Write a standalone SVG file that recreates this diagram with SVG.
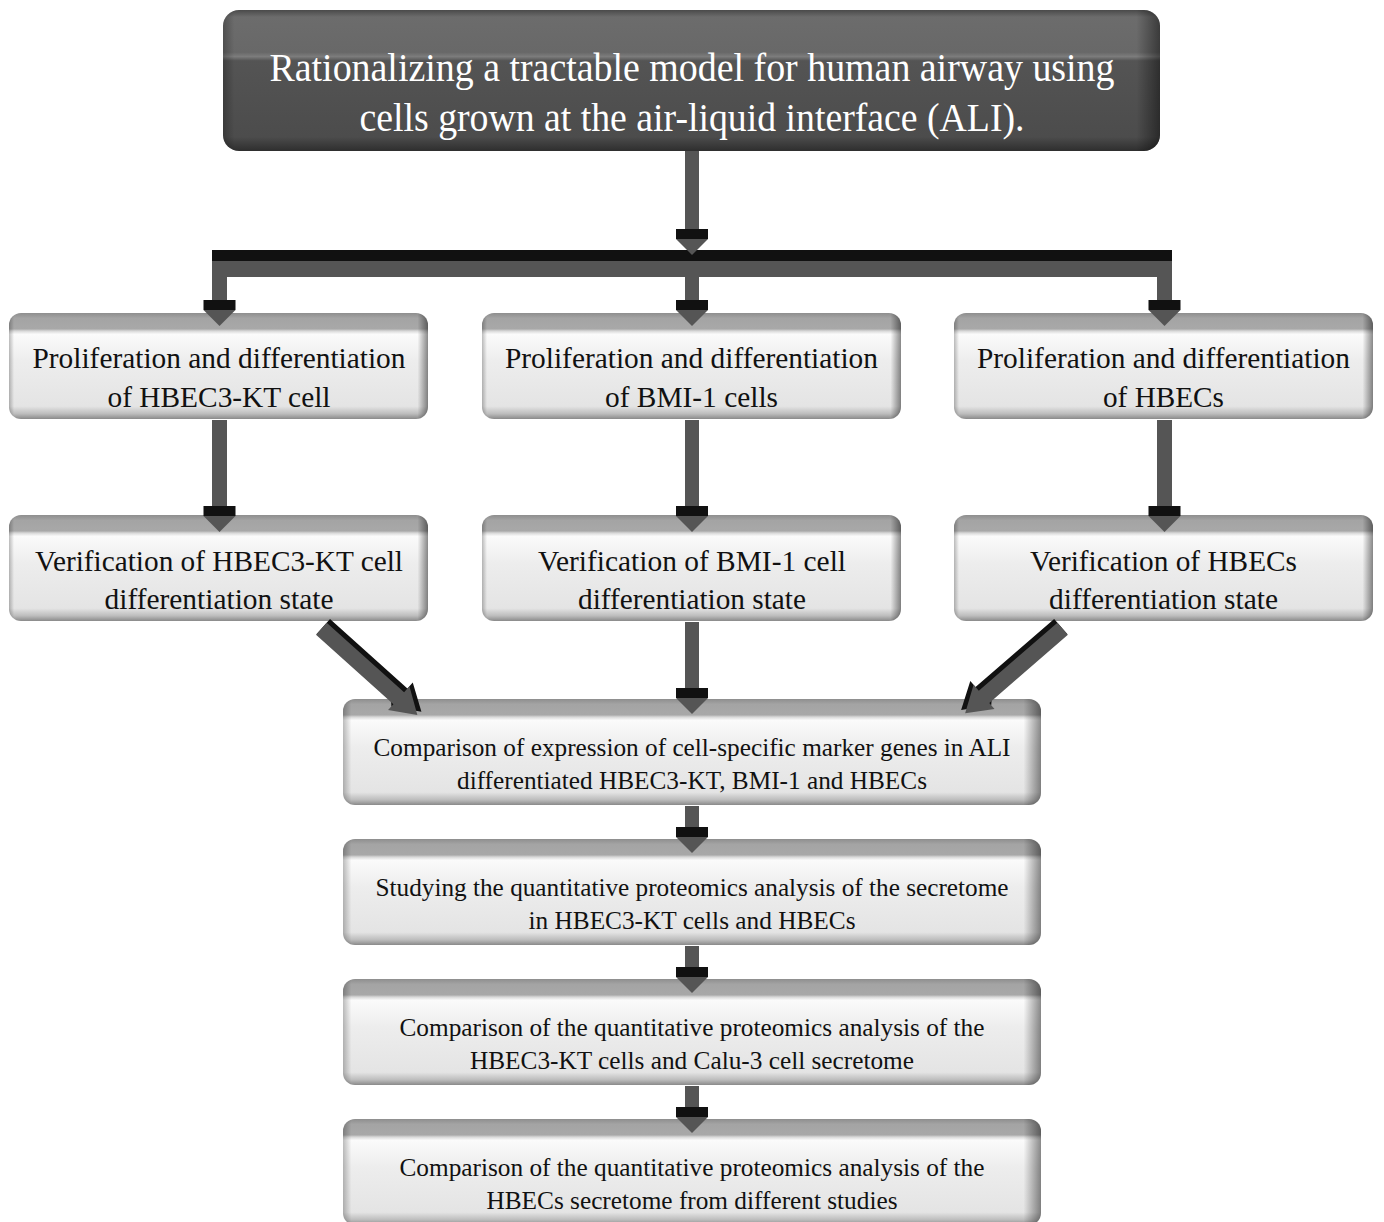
<svg xmlns="http://www.w3.org/2000/svg" width="1384" height="1222" viewBox="0 0 1384 1222">
<defs>
<linearGradient id="gLight" x1="0" y1="0" x2="0" y2="1">
<stop offset="0" stop-color="#8e8e8e"/>
<stop offset="0.05" stop-color="#a4a4a4"/>
<stop offset="0.15" stop-color="#a8a8a8"/>
<stop offset="0.17" stop-color="#d8d8d8"/>
<stop offset="0.2" stop-color="#fbfbfb"/>
<stop offset="0.45" stop-color="#ededed"/>
<stop offset="0.88" stop-color="#e4e4e4"/>
<stop offset="0.95" stop-color="#bdbdbd"/>
<stop offset="1" stop-color="#8a8a8a"/>
</linearGradient>
<linearGradient id="gDark" x1="0" y1="0" x2="0" y2="1">
<stop offset="0" stop-color="#4a4a4a"/>
<stop offset="0.05" stop-color="#6c6c6c"/>
<stop offset="0.3" stop-color="#686868"/>
<stop offset="0.33" stop-color="#7c7c7c"/>
<stop offset="0.36" stop-color="#545454"/>
<stop offset="0.9" stop-color="#4c4c4c"/>
<stop offset="1" stop-color="#2e2e2e"/>
</linearGradient>
<linearGradient id="gEdge" x1="0" y1="0" x2="1" y2="0">
<stop offset="0" stop-color="#000" stop-opacity="0.25"/>
<stop offset="0.012" stop-color="#000" stop-opacity="0"/>
<stop offset="0.975" stop-color="#000" stop-opacity="0"/>
<stop offset="1" stop-color="#000" stop-opacity="0.45"/>
</linearGradient>
<g id="downHead">
<rect x="-16" y="0" width="32" height="10" fill="#111"/>
<polygon points="-16,10 16,10 0,26" fill="#555"/>
</g>
</defs>
<style>
.box{fill:url(#gLight)}
.dark{fill:url(#gDark)}
.edge{fill:url(#gEdge)}
.t{font-family:"Liberation Serif","Times New Roman",serif;fill:#111;text-anchor:middle}
.t1{font-size:29px}
.t2{font-size:25px}
.tw{font-family:"Liberation Serif","Times New Roman",serif;fill:#fff;font-size:40px;text-anchor:middle}
.sh{fill:#555}
.bk{fill:#111}
</style>
<rect width="1384" height="1222" fill="#fff"/>

<g id="n-top">
<rect class="dark" x="223" y="10" width="937" height="141" rx="16"/>
<rect class="edge" x="223" y="10" width="937" height="141" rx="16"/>
<text class="tw" x="692" y="81" textLength="845" lengthAdjust="spacingAndGlyphs">Rationalizing a tractable model for human airway using</text>
<text class="tw" x="692" y="131" textLength="665" lengthAdjust="spacingAndGlyphs">cells grown at the air-liquid interface (ALI).</text>
</g>

<g id="n-prolif-hbec3">
<rect class="box" x="9" y="313" width="419" height="106" rx="12"/>
<rect class="edge" x="9" y="313" width="419" height="106" rx="12"/>
<text class="t t1" x="219" y="368" textLength="373" lengthAdjust="spacingAndGlyphs">Proliferation and differentiation</text>
<text class="t t1" x="219" y="407" textLength="223" lengthAdjust="spacingAndGlyphs">of HBEC3-KT cell</text>
</g>
<g id="n-prolif-bmi">
<rect class="box" x="482" y="313" width="419" height="106" rx="12"/>
<rect class="edge" x="482" y="313" width="419" height="106" rx="12"/>
<text class="t t1" x="691.5" y="368" textLength="373" lengthAdjust="spacingAndGlyphs">Proliferation and differentiation</text>
<text class="t t1" x="691.5" y="407" textLength="173" lengthAdjust="spacingAndGlyphs">of BMI-1 cells</text>
</g>
<g id="n-prolif-hbecs">
<rect class="box" x="954" y="313" width="419" height="106" rx="12"/>
<rect class="edge" x="954" y="313" width="419" height="106" rx="12"/>
<text class="t t1" x="1163.5" y="368" textLength="373" lengthAdjust="spacingAndGlyphs">Proliferation and differentiation</text>
<text class="t t1" x="1163.5" y="407" textLength="121" lengthAdjust="spacingAndGlyphs">of HBECs</text>
</g>

<g id="n-verif-hbec3">
<rect class="box" x="9" y="515" width="419" height="106" rx="12"/>
<rect class="edge" x="9" y="515" width="419" height="106" rx="12"/>
<text class="t t1" x="219" y="571" textLength="368" lengthAdjust="spacingAndGlyphs">Verification of HBEC3-KT cell</text>
<text class="t t1" x="219" y="609" textLength="229" lengthAdjust="spacingAndGlyphs">differentiation state</text>
</g>
<g id="n-verif-bmi">
<rect class="box" x="482" y="515" width="419" height="106" rx="12"/>
<rect class="edge" x="482" y="515" width="419" height="106" rx="12"/>
<text class="t t1" x="692" y="571" textLength="308" lengthAdjust="spacingAndGlyphs">Verification of BMI-1 cell</text>
<text class="t t1" x="692" y="609" textLength="228" lengthAdjust="spacingAndGlyphs">differentiation state</text>
</g>
<g id="n-verif-hbecs">
<rect class="box" x="954" y="515" width="419" height="106" rx="12"/>
<rect class="edge" x="954" y="515" width="419" height="106" rx="12"/>
<text class="t t1" x="1163.5" y="571" textLength="267" lengthAdjust="spacingAndGlyphs">Verification of HBECs</text>
<text class="t t1" x="1163.5" y="609" textLength="229" lengthAdjust="spacingAndGlyphs">differentiation state</text>
</g>

<g id="n-compare-markers">
<rect class="box" x="343" y="699" width="698" height="106" rx="12"/>
<rect class="edge" x="343" y="699" width="698" height="106" rx="12"/>
<text class="t t2" x="692" y="756" textLength="637" lengthAdjust="spacingAndGlyphs">Comparison of expression of cell-specific marker genes in ALI</text>
<text class="t t2" x="692" y="789" textLength="470" lengthAdjust="spacingAndGlyphs">differentiated HBEC3-KT, BMI-1 and HBECs</text>
</g>
<g id="n-secretome">
<rect class="box" x="343" y="839" width="698" height="106" rx="12"/>
<rect class="edge" x="343" y="839" width="698" height="106" rx="12"/>
<text class="t t2" x="692" y="896" textLength="633" lengthAdjust="spacingAndGlyphs">Studying the quantitative proteomics analysis of the secretome</text>
<text class="t t2" x="692" y="929" textLength="327" lengthAdjust="spacingAndGlyphs">in HBEC3-KT cells and HBECs</text>
</g>
<g id="n-calu3">
<rect class="box" x="343" y="979" width="698" height="106" rx="12"/>
<rect class="edge" x="343" y="979" width="698" height="106" rx="12"/>
<text class="t t2" x="692" y="1036" textLength="585" lengthAdjust="spacingAndGlyphs">Comparison of the quantitative proteomics analysis of the</text>
<text class="t t2" x="692" y="1069" textLength="444" lengthAdjust="spacingAndGlyphs">HBEC3-KT cells and Calu-3 cell secretome</text>
</g>
<g id="n-studies">
<rect class="box" x="343" y="1119" width="698" height="106" rx="12"/>
<rect class="edge" x="343" y="1119" width="698" height="106" rx="12"/>
<text class="t t2" x="692" y="1176" textLength="585" lengthAdjust="spacingAndGlyphs">Comparison of the quantitative proteomics analysis of the</text>
<text class="t t2" x="692" y="1209" textLength="411" lengthAdjust="spacingAndGlyphs">HBECs secretome from different studies</text>
</g>

<g id="connectors">
<!-- bar -->
<rect class="bk" x="212" y="250" width="960" height="11"/>
<rect class="sh" x="212" y="261" width="960" height="16"/>
<rect class="sh" x="212" y="277" width="15" height="25"/>
<rect class="sh" x="685" y="277" width="14" height="25"/>
<rect class="sh" x="1157" y="277" width="15" height="25"/>
<use href="#downHead" x="219.5" y="300"/>
<use href="#downHead" x="692" y="300"/>
<use href="#downHead" x="1164.5" y="300"/>
<!-- top arrow -->
<rect class="sh" x="685" y="151" width="14" height="81"/>
<use href="#downHead" x="692" y="229"/>
<!-- row1 to row2 -->
<rect class="sh" x="212" y="420" width="15" height="88"/>
<rect class="sh" x="685" y="420" width="14" height="88"/>
<rect class="sh" x="1157" y="420" width="15" height="88"/>
<use href="#downHead" x="219.5" y="506"/>
<use href="#downHead" x="692" y="506"/>
<use href="#downHead" x="1164.5" y="506"/>
<!-- row2 middle to comparison -->
<rect class="sh" x="685" y="622" width="14" height="68"/>
<use href="#downHead" x="692" y="688"/>
<!-- diagonal left -->
<g transform="translate(322,628) rotate(41.9)">
<polygon points="0,-12 104,-12 104,-20 130,-4 104,12 100,8 0,8" fill="#111"/>
<polygon points="0,-7 104,-7 104,-15 129,1 104,17 104,9 0,9" fill="#555"/>
</g>
<!-- diagonal right -->
<g transform="translate(1062,628) rotate(139.1)">
<polygon points="0,12 104,12 104,20 130,4 104,-12 100,-8 0,-8" fill="#111"/>
<polygon points="0,7 104,7 104,15 129,-1 104,-17 104,-9 0,-9" fill="#555"/>
</g>
<!-- lower chain -->
<rect class="sh" x="685" y="806" width="14" height="24"/>
<use href="#downHead" x="692" y="827"/>
<rect class="sh" x="685" y="946" width="14" height="24"/>
<use href="#downHead" x="692" y="967"/>
<rect class="sh" x="685" y="1086" width="14" height="24"/>
<use href="#downHead" x="692" y="1107"/>
</g>
</svg>
